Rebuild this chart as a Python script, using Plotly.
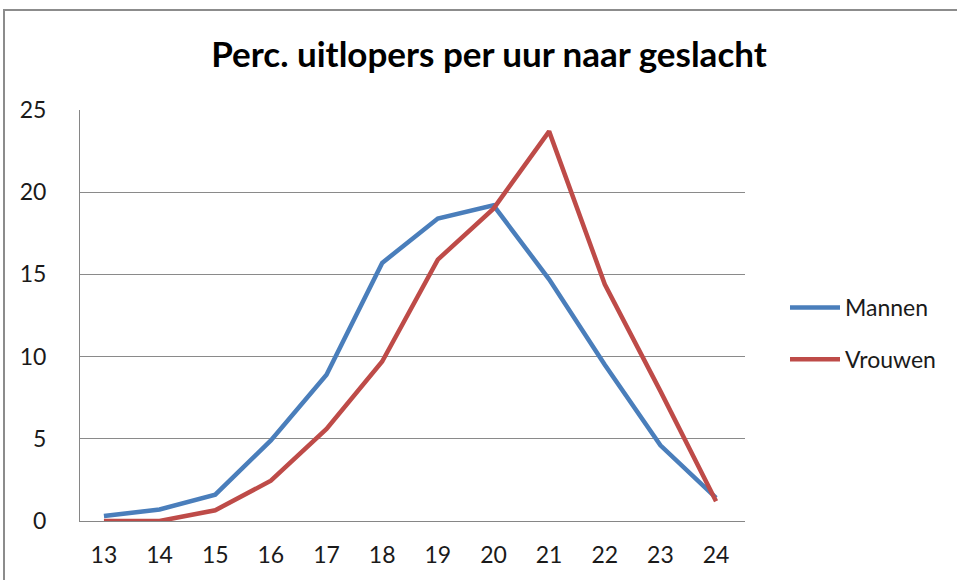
import plotly.graph_objects as go

hours = [13, 14, 15, 16, 17, 18, 19, 20, 21, 22, 23, 24]
mannen = [0.3, 0.7, 1.6, 4.9, 8.9, 15.7, 18.4, 19.2, 14.7, 9.5, 4.6, 1.4]
vrouwen = [0.0, 0.0, 0.65, 2.45, 5.6, 9.7, 15.9, 19.0, 23.7, 14.4, 7.9, 1.2]
y_ticks = [0, 5, 10, 15, 20, 25]

W, H = 957, 580
L, R, T, B = 80, 212, 110, 59
pw, ph = W - L - R, H - T - B

fig = go.Figure()
fig.add_trace(go.Scatter(x=hours, y=mannen, mode="lines", name="Mannen", legendgroup="m",
                         line=dict(color="#4A7EBB", width=4.5)))
fig.add_trace(go.Scatter(x=hours, y=vrouwen, mode="lines", name="Vrouwen", legendgroup="v",
                         line=dict(color="#BE4B48", width=4.5)))

font = "Lato, 'Open Sans', sans-serif"
fig.update_layout(
    width=W, height=H,
    margin=dict(l=L, r=R, t=T, b=B),
    paper_bgcolor="white", plot_bgcolor="white",
    font=dict(family=font, color="#1a1a1a", size=23),
    title=dict(text="<b>Perc. uitlopers per uur naar geslacht</b>",
               x=489 / W, xref="container", xanchor="center",
               y=1 - 55 / H, yref="container", yanchor="middle",
               font=dict(size=35, family=font, color="#000000")),
    showlegend=True,
    legend=dict(x=(785 - L) / pw, y=(H - B - 333.5) / ph, xanchor="left", yanchor="middle",
                font=dict(size=23), tracegroupgap=19, itemwidth=50,
                bgcolor="rgba(0,0,0,0)"),
)
fig.update_xaxes(range=[12.57, 24.52], tickvals=hours, ticktext=[str(h) for h in hours],
                 showgrid=False, zeroline=False, showline=True, linecolor="#868686",
                 linewidth=1, ticks="", ticklabelstandoff=13, tickfont=dict(size=23))
fig.update_yaxes(range=[0, 25], tickvals=y_ticks, showgrid=True, gridcolor="#8a8a8a",
                 gridwidth=1, zeroline=False, showline=True, linecolor="#868686",
                 linewidth=1, ticks="", ticklabelstandoff=28, tickfont=dict(size=23))

# outer chart frame (partially visible)
fig.add_shape(type="rect", xref="paper", yref="paper",
              x0=(4 - L) / pw, x1=1.6, y0=-0.5, y1=(H - B - 10) / ph,
              line=dict(color="#8c8c8c", width=2), fillcolor="rgba(0,0,0,0)", layer="above")

fig.write_html("out.html", config={"displayModeBar": False},
               post_script="document.body.style.margin='0px';document.body.style.overflow='hidden';")
